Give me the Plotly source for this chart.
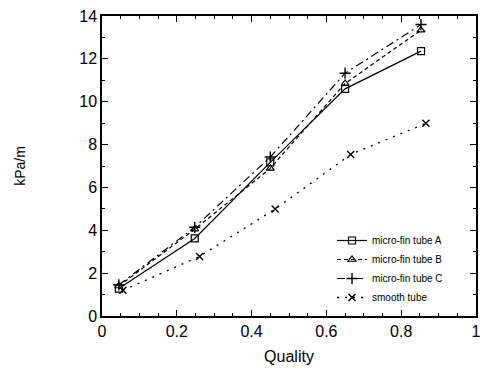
import plotly.graph_objects as go

quality_fin = [0.045, 0.248, 0.45, 0.65, 0.853]
quality_smooth = [0.056, 0.261, 0.463, 0.665, 0.866]
tube_a = [1.28, 3.62, 7.17, 10.6, 12.36]
tube_b = [1.40, 4.05, 6.89, 10.85, 13.34]
tube_c = [1.45, 4.14, 7.42, 11.33, 13.6]
smooth = [1.20, 2.78, 4.99, 7.54, 8.99]

names = ["micro-fin tube A", "micro-fin tube B", "micro-fin tube C", "smooth tube"]

fig = go.Figure()
fig.add_trace(go.Scatter(x=quality_fin, y=tube_a, name=names[0], mode="lines+markers",
                         line=dict(color="black", width=1.2, dash="solid"),
                         marker=dict(symbol="square-open", size=7, color="black", line=dict(width=1.2))))
fig.add_trace(go.Scatter(x=quality_fin, y=tube_b, name=names[1], mode="lines+markers",
                         line=dict(color="black", width=1.2, dash="4px,3px"),
                         marker=dict(symbol="triangle-up-open", size=7, color="black", line=dict(width=1.2))))
fig.add_trace(go.Scatter(x=quality_fin, y=tube_c, name=names[2], mode="lines+markers",
                         line=dict(color="black", width=1.2, dash="8px,4px,2px,4px"),
                         marker=dict(symbol="cross-thin-open", size=8, color="black", line=dict(width=1.4))))
fig.add_trace(go.Scatter(x=quality_smooth, y=smooth, name=names[3], mode="lines+markers",
                         line=dict(color="black", width=1.3, dash="2px,6px"),
                         marker=dict(symbol="x-thin-open", size=7, color="black", line=dict(width=1.4))))

axis_common = dict(showline=True, linecolor="black", linewidth=1.5, mirror="allticks",
                   ticks="inside", ticklen=6, tickwidth=1.2, tickcolor="black",
                   showgrid=False, zeroline=False,
                   tickfont=dict(family="Liberation Sans, Arial", size=16, color="black"))

fig.update_xaxes(range=[0, 1], tickvals=[0, 0.2, 0.4, 0.6, 0.8, 1],
                 ticktext=["0", "0.2", "0.4", "0.6", "0.8", "1"],
                 minor=dict(dtick=0.05, ticks="inside", ticklen=3, tickcolor="black", tickwidth=1),
                 title=dict(text="Quality", font=dict(family="Liberation Sans, Arial", size=16, color="black"), standoff=12),
                 **axis_common)
fig.update_yaxes(range=[0, 14], dtick=2,
                 minor=dict(dtick=1, ticks="inside", ticklen=3, tickcolor="black", tickwidth=1),
                 title=dict(text="kPa/m", font=dict(family="Liberation Sans, Arial", size=14, color="black"), standoff=50),
                 **axis_common)

fig.update_layout(width=489, height=376, margin=dict(l=102, r=8, t=14, b=60),
                  paper_bgcolor="white", plot_bgcolor="white",
                  legend=dict(x=0.615, y=0.30, xanchor="left", yanchor="top",
                              bgcolor="rgba(0,0,0,0)", tracegroupgap=0,
                              font=dict(family="Liberation Sans, Arial", size=10, color="black")))

fig.write_html("out.html")
